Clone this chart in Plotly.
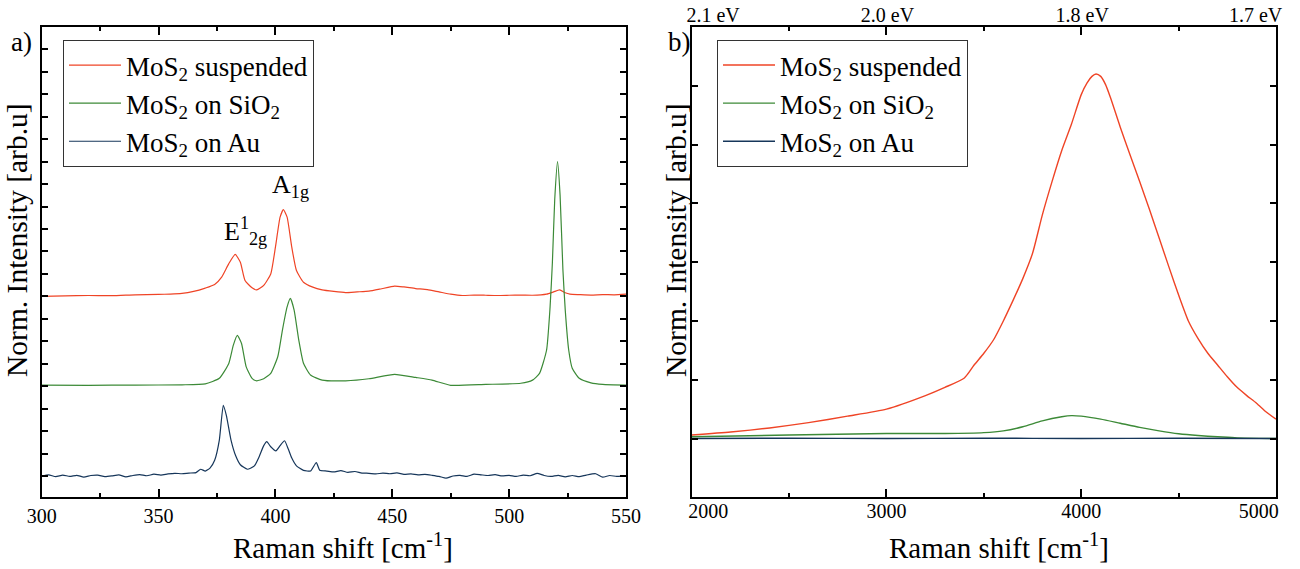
import plotly.graph_objects as go

# ---- panel a) Raman spectra (offset, normalised) ----
susp_x = [300, 310, 320, 330, 340, 350, 355, 360, 365, 370, 374, 377, 380, 382.8, 385, 387, 390, 392,
          395, 398, 400, 402, 403.4, 405, 407, 409, 412, 416, 420, 425, 430, 435, 440, 445, 451, 455,
          460, 465, 470, 475, 480, 485, 490, 495, 500, 505, 510, 516, 519, 521.6, 524, 526, 530, 535,
          540, 545, 550]
susp_y = [8.0, 8.02, 8.04, 8.03, 8.07, 8.09, 8.1, 8.13, 8.22, 8.37, 8.53, 8.86, 9.45, 9.87, 9.52, 8.71,
          8.38, 8.29, 8.49, 9.0, 10.19, 11.53, 11.87, 11.53, 10.19, 9.15, 8.63, 8.41, 8.29, 8.22, 8.17,
          8.2, 8.23, 8.33, 8.46, 8.42, 8.35, 8.3, 8.2, 8.1, 8.04, 8.06, 8.05, 8.04, 8.05, 8.06, 8.05,
          8.1, 8.2, 8.29, 8.16, 8.1, 8.08, 8.06, 8.08, 8.07, 8.1]

sio2_x = [300, 320, 340, 360, 370, 376, 380, 382, 383.7, 385.5, 387.5, 390, 392, 395, 398, 401, 403,
          405, 406.4, 408, 410, 412, 415, 420, 430, 440, 451, 460, 467, 475, 490, 505, 510, 513, 516,
          517.5, 518.5, 519.5, 520.7, 521.8, 523, 524, 525.5, 527, 530, 535, 540, 550]
sio2_y = [4.05, 4.04, 4.05, 4.06, 4.1, 4.35, 5.0, 5.83, 6.26, 5.9, 4.86, 4.35, 4.24, 4.33, 4.57, 5.31,
          6.5, 7.53, 7.91, 7.39, 6.05, 5.02, 4.5, 4.27, 4.24, 4.33, 4.53, 4.39, 4.27, 4.04, 4.08, 4.13,
          4.27, 4.57, 5.6, 7.5, 9.5, 12.3, 14.0, 12.5, 9.2, 7.4, 5.6, 4.8, 4.35, 4.15, 4.08, 4.05]

au_x = [300, 303, 306, 309, 312, 315, 318, 321, 324, 327, 330, 333, 336, 339, 342, 345, 348, 351, 354,
        357, 360, 363, 366, 368, 370, 372, 374, 376, 377.7, 379, 381, 383, 385, 388, 391, 393, 395,
        396.3, 398, 400.2, 402, 403.9, 405.5, 407, 409, 412, 415, 417.5, 419, 422, 425, 428, 431, 434,
        437, 440, 443, 446, 449, 452, 455, 458, 461, 464, 467, 470, 473, 476, 479, 482, 485, 488, 491,
        494, 497, 500, 503, 506, 509, 512, 515, 518, 521, 524, 527, 530, 533, 537, 540, 543, 546, 550]
au_y = [0.0, 0.05, -0.03, 0.04, -0.02, 0.03, -0.05, 0.02, 0.04, -0.03, 0.0, 0.05, -0.04, 0.02, 0.06,
        0.01, 0.08, 0.04, 0.09, 0.12, 0.1, 0.13, 0.15, 0.3, 0.22, 0.35, 0.7, 1.6, 3.15, 2.7, 1.6, 0.9,
        0.5, 0.3, 0.45, 0.85, 1.35, 1.53, 1.3, 1.12, 1.35, 1.57, 1.2, 0.8, 0.45, 0.25, 0.22, 0.6, 0.25,
        0.22, 0.18, 0.24, 0.16, 0.2, 0.13, 0.12, 0.09, 0.13, 0.1, 0.14, 0.07, 0.09, 0.05, 0.07, 0.03,
        -0.02, -0.1, 0.0, 0.03, -0.02, 0.08, 0.05, 0.02, 0.06, 0.0, 0.03, -0.02, 0.04, 0.01, 0.12, 0.02,
        -0.02, 0.03, -0.04, 0.02, -0.03, 0.04, 0.1, -0.05, 0.02, -0.02, 0.0]

# ---- panel b) photoluminescence ----
pl_susp_x = [2000, 2200, 2400, 2600, 2800, 3000, 3200, 3300, 3400, 3450, 3500, 3550, 3600, 3650, 3700,
             3750, 3800, 3850, 3900, 3950, 4000, 4030, 4055, 4076, 4100, 4125, 4150, 4200, 4250, 4300,
             4350, 4400, 4450, 4500, 4550, 4600, 4650, 4700, 4750, 4800, 4850, 4900, 4950, 5000]
pl_susp_y = [0.06, 0.11, 0.18, 0.27, 0.38, 0.5, 0.73, 0.87, 1.03, 1.25, 1.45, 1.68, 2.0, 2.35, 2.72,
             3.15, 3.8, 4.37, 4.9, 5.35, 5.85, 6.05, 6.16, 6.2, 6.16, 6.02, 5.8, 5.3, 4.83, 4.37, 3.9,
             3.41, 2.92, 2.44, 2.0, 1.7, 1.45, 1.25, 1.05, 0.87, 0.73, 0.6, 0.45, 0.33]

pl_sio2_x = [2000, 2500, 3000, 3300, 3500, 3600, 3700, 3800, 3900, 3950, 4000, 4100, 4200, 4300, 4400,
             4500, 4600, 4700, 4800, 5000]
pl_sio2_y = [0.03, 0.06, 0.085, 0.085, 0.1, 0.13, 0.2, 0.3, 0.37, 0.39, 0.38, 0.33, 0.26, 0.19, 0.13,
             0.08, 0.05, 0.03, 0.01, 0.0]

pl_au_x = [2000, 2500, 3000, 3500, 4000, 4500, 5000]
pl_au_y = [0.0, 0.005, 0.0, 0.005, 0.0, 0.005, 0.0]

names = ['MoS<sub>2</sub> suspended', 'MoS<sub>2</sub> on SiO<sub>2</sub>', 'MoS<sub>2</sub> on Au']
colors = ['#ef4426', '#3c8a37', '#16365a']

bottom_labels = ['2000', '3000', '4000', '5000']
bottom_label_pos = [2085, 3000, 4000, 4912]
ev_labels = ['2.1 eV', '2.0 eV', '1.8 eV', '1.7 eV']
ev_label_pos = [2110, 3005, 4005, 4895]

FONT = "'Liberation Serif', 'Times New Roman', Times, serif"

W, H = 1300, 569


def fx(px):
    return px / W


def fy(py):
    return 1 - py / H


fig = go.Figure()

for xs, ys, nm, c in zip([susp_x, sio2_x, au_x], [susp_y, sio2_y, au_y], names, colors):
    fig.add_trace(go.Scatter(x=xs, y=ys, mode='lines', name=nm,
                             line=dict(color=c, width=1.2, shape='spline', smoothing=0.5),
                             xaxis='x', yaxis='y', legend='legend'))

for xs, ys, nm, c in zip([pl_susp_x, pl_sio2_x, pl_au_x], [pl_susp_y, pl_sio2_y, pl_au_y], names, colors):
    fig.add_trace(go.Scatter(x=xs, y=ys, mode='lines', name=nm,
                             line=dict(color=c, width=1.4, shape='spline', smoothing=0.6),
                             xaxis='x2', yaxis='y2', legend='legend2'))

# invisible helpers so overlay axes get drawn
fig.add_trace(go.Scatter(x=[2000, 5000], y=[0, 0], mode='lines', line=dict(width=0),
                         showlegend=False, hoverinfo='skip', xaxis='x3', yaxis='y2'))
fig.add_trace(go.Scatter(x=[2000, 5000], y=[0, 0], mode='lines', line=dict(width=0),
                         showlegend=False, hoverinfo='skip', xaxis='x4', yaxis='y2'))

dom_y = [fy(497.3), fy(27)]
frame = dict(showline=True, linecolor='black', linewidth=2, mirror='ticks', showgrid=False,
             zeroline=False, ticks='inside', tickcolor='black', automargin=False)

legend_style = dict(font=dict(family=FONT, size=27, color='black'), bgcolor='white',
                    bordercolor='#333333', borderwidth=1, itemwidth=52, tracegroupgap=0,
                    xanchor='left', yanchor='top')

fig.update_layout(
    width=W, height=H,
    template='none',
    paper_bgcolor='white', plot_bgcolor='white',
    margin=dict(l=0, r=0, t=0, b=0),
    font=dict(family=FONT, size=20, color='black'),
    xaxis=dict(domain=[fx(41.7), fx(626)], range=[300, 550], dtick=50, ticklen=8, tickwidth=1.5,
               minor=dict(dtick=25, ticklen=4, ticks='inside', tickcolor='black', tickwidth=1.5),
               tickfont=dict(family=FONT, size=20), anchor='y', **frame),
    yaxis=dict(domain=dom_y, range=[-0.95, 20], dtick=1, ticklen=6, tickwidth=1.5,
               showticklabels=False, anchor='x', **frame),
    xaxis2=dict(domain=[fx(691.7), fx(1276)], range=[2000, 5000], dtick=1000, ticklen=8, tickwidth=1.5,
                minor=dict(dtick=500, ticklen=4, ticks='inside', tickcolor='black', tickwidth=1.5),
                showticklabels=False, anchor='y2', **frame),
    yaxis2=dict(domain=dom_y, range=[-1, 7], dtick=1, ticklen=6, tickwidth=1.5,
                showticklabels=False, anchor='x2', **frame),
    xaxis3=dict(overlaying='x2', anchor='y2', side='bottom', range=[2000, 5000],
                tickvals=bottom_label_pos, ticktext=bottom_labels, ticks='', showline=False,
                showgrid=False, zeroline=False, automargin=False,
                tickfont=dict(family=FONT, size=20)),
    xaxis4=dict(overlaying='x2', anchor='y2', side='top', range=[2000, 5000],
                tickvals=ev_label_pos, ticktext=ev_labels, ticks='', showline=False,
                showgrid=False, zeroline=False, automargin=False,
                tickfont=dict(family=FONT, size=20)),
    legend=dict(x=fx(63), y=fy(40), **legend_style),
    legend2=dict(x=fx(717), y=fy(40), **legend_style),
    showlegend=True,
)

# panel letters and axis titles
ann = [
    dict(text='a)', x=fx(21), y=fy(42), font=dict(family=FONT, size=27, color='black')),
    dict(text='b)', x=fx(679), y=fy(42), font=dict(family=FONT, size=27, color='black')),
    dict(text='Norm. Intensity [arb.u]', x=fx(17), y=fy(240), textangle=-90,
         font=dict(family=FONT, size=29.5, color='black')),
    dict(text='Norm. Intensity [arb.u]', x=fx(676), y=fy(240), textangle=-90,
         font=dict(family=FONT, size=29.5, color='black')),
    dict(text='Raman shift [cm<sup>-1</sup>]', x=fx(343), y=fy(546),
         font=dict(family=FONT, size=29, color='black')),
    dict(text='Raman shift [cm<sup>-1</sup>]', x=fx(999), y=fy(546),
         font=dict(family=FONT, size=29, color='black')),
]
for a in ann:
    fig.add_annotation(xref='paper', yref='paper', showarrow=False, xanchor='center', yanchor='middle', **a)

# peak labels
fig.add_annotation(x=387, y=10.9, xref='x', yref='y', showarrow=False,
                   text='E<sup>1</sup><sub>2g</sub>', font=dict(family=FONT, size=26, color='black'))
fig.add_annotation(x=406.5, y=12.9, xref='x', yref='y', showarrow=False,
                   text='A<sub>1g</sub>', font=dict(family=FONT, size=26, color='black'))

# the page body carries a default 8px margin; drop it so the figure sits at the window corner
fig.write_html("out.html", config={'displayModeBar': False},
               post_script="document.body.style.margin='0';")
